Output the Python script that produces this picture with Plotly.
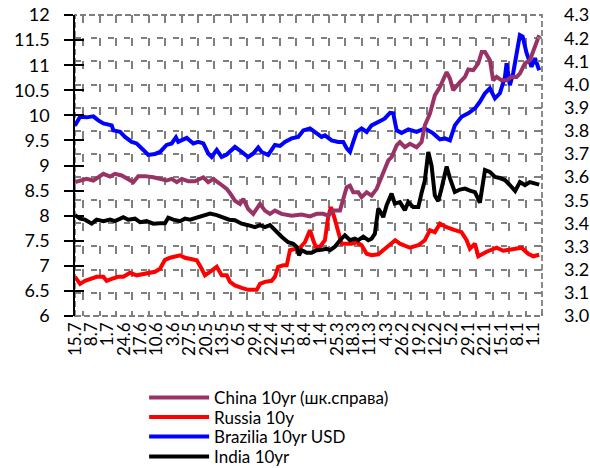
import plotly.graph_objects as go

# Week labels along the bottom axis (one per week position)
week_labels = ["15.7", "8.7", "1.7", "24.6", "17.6", "10.6", "3.6", "27.5", "20.5",
               "13.5", "6.5", "29.4", "22.4", "15.4", "8.4", "1.4", "25.3", "18.3",
               "11.3", "4.3", "26.2", "19.2", "12.2", "5.2", "29.1", "22.1", "15.1",
               "8.1", "1.1"]

# China 10yr, right-hand scale (time in weeks from the first label)
china_t = [0, 0.31, 0.71, 1.12, 1.42, 1.73, 2.14, 2.44, 2.85, 3.25, 3.56, 3.86, 4.27, 4.78,
           5.19, 5.59, 5.90, 6.21, 6.51, 6.91, 7.32, 7.63, 7.83, 8.13, 8.44, 8.85, 9.26,
           9.46, 9.76, 10.07, 10.27, 10.57, 10.88, 11.29, 11.59, 11.90, 12.20, 12.61, 13.22,
           13.83, 14.34, 14.75, 15.15, 15.45, 15.76, 16.17, 16.37, 16.58, 16.78, 16.98,
           17.29, 17.49, 17.80, 18.10, 18.41, 18.61, 18.91, 19.12, 19.32, 19.63, 19.83,
           20.13, 20.44, 20.85, 21.15, 21.35, 21.66, 21.96, 22.27, 22.68, 22.88, 23.08,
           23.49, 23.80, 24.00, 24.31, 24.61, 24.82, 25.02, 25.32, 25.52, 25.73, 26.03,
           26.34, 26.64, 26.95, 27.15, 27.46, 27.76, 27.97, 28.33]
china = [3.578, 3.585, 3.592, 3.585, 3.599, 3.614, 3.602, 3.614, 3.607, 3.592, 3.578, 3.604,
         3.604, 3.599, 3.592, 3.585, 3.592, 3.578, 3.592, 3.582, 3.582, 3.592, 3.599, 3.578,
         3.592, 3.571, 3.549, 3.530, 3.498, 3.484, 3.506, 3.462, 3.441, 3.484, 3.455, 3.441,
         3.455, 3.441, 3.433, 3.438, 3.430, 3.441, 3.441, 3.433, 3.455, 3.455, 3.513, 3.556,
         3.563, 3.534, 3.534, 3.513, 3.534, 3.520, 3.549, 3.585, 3.628, 3.672, 3.686, 3.737,
         3.751, 3.729, 3.744, 3.729, 3.751, 3.823, 3.874, 3.953, 3.989, 4.054, 4.026, 3.975,
         4.011, 4.033, 4.065, 4.062, 4.091, 4.141, 4.141, 4.105, 4.018, 4.033, 4.018, 4.018,
         4.033, 4.033, 4.047, 4.091, 4.105, 4.148, 4.213]

# Russia 10y, left-hand scale
russia_t = [0, 0.31, 0.61, 0.92, 1.32, 1.73, 1.93, 2.24, 2.64, 2.95, 3.36, 3.76, 4.07, 4.47,
            4.88, 5.19, 5.49, 5.80, 6.10, 6.41, 6.71, 7.02, 7.43, 7.73, 7.93, 8.24, 8.65,
            8.95, 9.26, 9.46, 9.76, 10.17, 10.57, 11.09, 11.29, 11.59, 12.00, 12.20, 12.40,
            12.71, 12.92, 13.12, 13.42, 13.73, 14.03, 14.34, 14.54, 14.69, 14.95, 15.25,
            15.45, 15.62, 15.82, 16.06, 16.27, 16.58, 16.88, 17.19, 17.49, 17.80, 18.10,
            18.51, 18.71, 19.13, 19.54, 19.83, 20.44, 20.95, 21.35, 21.66, 21.96, 22.27,
            22.68, 23.18, 23.59, 23.90, 24.10, 24.41, 24.61, 25.12, 25.73, 26.13, 26.74,
            27.25, 27.66, 27.97, 28.33]
russia = [6.78, 6.64, 6.70, 6.74, 6.78, 6.78, 6.70, 6.74, 6.78, 6.78, 6.86, 6.81, 6.83, 6.84,
          6.88, 6.94, 7.12, 7.16, 7.18, 7.21, 7.16, 7.14, 7.11, 6.94, 6.81, 6.88, 6.98, 6.81,
          6.81, 6.68, 6.61, 6.56, 6.52, 6.52, 6.64, 6.68, 6.70, 6.78, 6.98, 7.01, 7.01, 7.31,
          7.34, 7.36, 7.47, 7.71, 7.51, 7.38, 7.38, 7.51, 7.97, 8.17, 7.97, 7.71, 7.44, 7.44,
          7.44, 7.47, 7.41, 7.24, 7.21, 7.23, 7.28, 7.41, 7.51, 7.44, 7.36, 7.41, 7.51, 7.71,
          7.67, 7.84, 7.77, 7.71, 7.67, 7.51, 7.34, 7.44, 7.19, 7.28, 7.36, 7.30, 7.34, 7.36,
          7.24, 7.19, 7.22]

# Brazil 10yr USD, left-hand scale
brazil_t = [0, 0.31, 0.71, 1.12, 1.42, 1.73, 2.24, 2.34, 2.75, 3.05, 3.46, 3.76, 4.17, 4.47,
            4.88, 5.19, 5.59, 5.90, 6.16, 6.30, 6.82, 7.22, 7.52, 7.83, 8.13, 8.34, 8.65,
            8.95, 9.26, 9.76, 10.17, 10.57, 10.88, 11.18, 11.39, 11.79, 12.20, 12.51, 12.81,
            13.22, 13.62, 13.93, 14.34, 14.64, 15.05, 15.25, 15.66, 16.06, 16.37, 16.58,
            16.78, 16.98, 17.19, 17.49, 17.80, 18.10, 18.41, 18.71, 18.91, 19.22, 19.42,
            19.63, 19.93, 20.34, 20.85, 21.35, 21.86, 22.27, 22.57, 22.88, 23.18, 23.59,
            24.00, 24.41, 24.71, 25.02, 25.32, 25.63, 25.93, 26.24, 26.34, 26.54, 26.74,
            26.95, 27.15, 27.32, 27.56, 27.86, 28.07, 28.33]
brazil = [9.80, 9.97, 9.96, 9.98, 9.90, 9.84, 9.80, 9.70, 9.67, 9.57, 9.47, 9.44, 9.31, 9.21,
          9.23, 9.27, 9.41, 9.44, 9.56, 9.47, 9.55, 9.44, 9.47, 9.44, 9.24, 9.17, 9.31, 9.17,
          9.22, 9.37, 9.27, 9.17, 9.24, 9.36, 9.27, 9.21, 9.41, 9.39, 9.47, 9.54, 9.57, 9.70,
          9.74, 9.67, 9.57, 9.60, 9.50, 9.47, 9.47, 9.34, 9.27, 9.47, 9.67, 9.74, 9.67, 9.80,
          9.84, 9.90, 9.94, 10.05, 10.04, 9.70, 9.65, 9.72, 9.67, 9.74, 9.64, 9.52, 9.54,
          9.50, 9.80, 9.97, 10.04, 10.14, 10.27, 10.44, 10.54, 10.34, 10.44, 10.77, 11.04,
          10.60, 10.84, 11.24, 11.60, 11.57, 11.24, 10.97, 11.14, 10.90]

# India 10yr, left-hand scale
india_t = [0, 0.31, 0.61, 1.02, 1.32, 1.73, 2.14, 2.44, 2.95, 3.25, 3.66, 3.97, 4.37, 4.78,
           5.19, 5.49, 5.69, 6.00, 6.41, 6.71, 7.02, 7.43, 7.83, 8.24, 8.65, 9.05, 9.41,
           9.76, 10.17, 10.57, 10.98, 11.29, 11.59, 11.90, 12.20, 12.61, 13.01, 13.32, 13.53,
           13.67, 13.83, 14.14, 14.44, 14.75, 15.05, 15.36, 15.56, 15.86, 16.17, 16.47,
           16.78, 17.08, 17.29, 17.59, 17.90, 18.10, 18.30, 18.51, 18.71, 18.81, 19.02,
           19.32, 19.52, 19.83, 20.13, 20.34, 20.64, 20.95, 21.15, 21.35, 21.56, 21.76,
           21.96, 22.17, 22.37, 22.68, 22.88, 23.18, 23.49, 23.80, 24.10, 24.41, 24.71,
           25.02, 25.32, 25.63, 25.93, 26.24, 26.54, 26.86, 27.15, 27.46, 27.76, 28.07, 28.33]
india = [8.01, 7.94, 7.92, 7.84, 7.92, 7.89, 7.92, 7.89, 7.97, 7.92, 7.94, 7.87, 7.89, 7.84,
         7.85, 7.85, 7.96, 7.92, 7.89, 7.94, 7.92, 7.96, 8.01, 8.04, 8.01, 7.97, 7.92, 7.91,
         7.84, 7.81, 7.77, 7.81, 7.77, 7.81, 7.71, 7.58, 7.47, 7.44, 7.38, 7.21, 7.31, 7.26,
         7.26, 7.31, 7.32, 7.34, 7.31, 7.38, 7.51, 7.61, 7.51, 7.54, 7.51, 7.58, 7.51, 7.54,
         7.64, 8.14, 8.04, 7.97, 8.21, 8.44, 8.24, 8.27, 8.11, 8.27, 8.17, 8.17, 8.45, 8.70,
         9.27, 9.00, 8.40, 8.29, 8.54, 8.98, 8.75, 8.47, 8.52, 8.54, 8.50, 8.47, 8.26, 8.91,
         8.87, 8.77, 8.75, 8.71, 8.61, 8.49, 8.67, 8.61, 8.67, 8.64, 8.62]

FONT = "Lato"
GRID = "#7f7f7f"

fig = go.Figure()

series = [
    ("China 10yr (шк.справа)", china_t, china, "#993366", "y2", "legend"),
    ("Russia 10y", russia_t, russia, "#ff0000", "y", "legend2"),
    ("Brazilia 10yr USD", brazil_t, brazil, "#0000ff", "y", "legend3"),
    ("India 10yr", india_t, india, "#000000", "y", "legend4"),
]
for name, t, v, color, yax, leg in series:
    fig.add_trace(go.Scatter(
        x=t, y=v, name=name, mode="lines", yaxis=yax, legend=leg,
        line=dict(color=color, width=4),
    ))

legend_style = dict(
    xanchor="left", yanchor="middle", x=0.148,
    bgcolor="rgba(0,0,0,0)", borderwidth=0, itemwidth=60,
    font=dict(family=FONT, size=17, color="#000000"),
)
fig.update_layout(
    legend=dict(y=-0.272, **legend_style),
    legend2=dict(y=-0.337, **legend_style),
    legend3=dict(y=-0.402, **legend_style),
    legend4=dict(y=-0.468, **legend_style),
)

fig.update_layout(
    width=590, height=468,
    margin=dict(l=75, r=48, t=15, b=152, autoexpand=False),
    paper_bgcolor="#ffffff", plot_bgcolor="#ffffff",
    showlegend=True,
    font=dict(family=FONT, size=18, color="#000000"),
    xaxis=dict(
        range=[0, 28.5], tickmode="array", tickvals=list(range(len(week_labels))),
        ticktext=week_labels, tickangle=-90, ticks="", showgrid=False, zeroline=False,
        showline=False, tickfont=dict(family=FONT, size=17), ticklabelstandoff=2,
        minor=dict(tickmode="linear", tick0=0.5, dtick=1, showgrid=True, gridcolor=GRID,
                   gridwidth=1.5, griddash="8px,15.1px", ticks="inside", ticklen=5,
                   tickcolor=GRID, tickwidth=1.5),
    ),
    yaxis=dict(
        range=[5.999, 12.001], tickmode="linear", tick0=6, dtick=0.5, showgrid=False,
        zeroline=False, showline=True, linecolor="#000000", linewidth=1.6,
        ticks="outside", ticklen=9, tickwidth=1.6, tickcolor="#000000",
        tickfont=dict(family=FONT, size=18), ticklabelstandoff=11,
    ),
    yaxis2=dict(
        overlaying="y", side="right", anchor="x", range=[2.9995, 4.3005],
        tickmode="linear", tick0=3.0, dtick=0.1, tickformat=".1f",
        showgrid=True, gridcolor=GRID, gridwidth=1.5, griddash="6px,10.4px",
        zeroline=False, showline=False, ticks="inside", ticklen=5, tickwidth=1.5,
        tickcolor=GRID, tickfont=dict(family=FONT, size=18), ticklabelstandoff=21,
    ),
    # second copy of the left scale, carrying the inner half of the cross ticks
    yaxis3=dict(
        overlaying="y", side="left", anchor="x", range=[5.999, 12.001],
        tickmode="linear", tick0=6, dtick=0.5, showgrid=False, zeroline=False,
        showline=False, ticks="inside", ticklen=9, tickwidth=1.6, tickcolor="#000000",
        showticklabels=False,
    ),
)

# invisible trace so the inner-tick scale is drawn
fig.add_trace(go.Scatter(x=[None], y=[None], yaxis="y3", showlegend=False,
                         hoverinfo="skip"))

# dashed frame around the plotting area
fig.add_shape(type="rect", xref="paper", yref="paper", x0=0, x1=1, y0=0, y1=1,
              line=dict(color="#7f7f7f", width=1.8, dash="6px,3px"), layer="below")

fig.write_html("out.html")
